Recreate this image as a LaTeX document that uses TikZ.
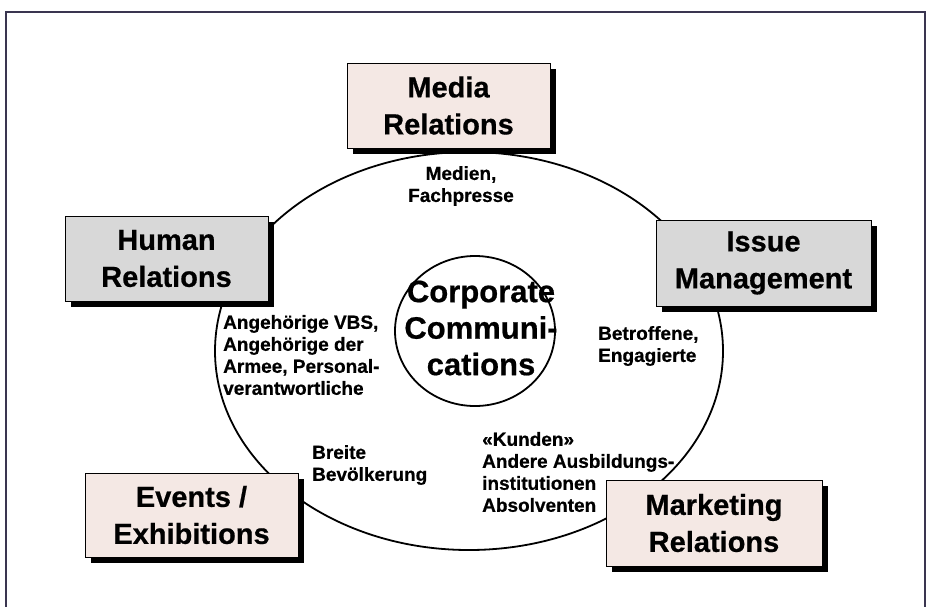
\documentclass[tikz,border=0pt]{standalone}
\usepackage{fontspec}
\setmainfont{Liberation Sans}[BoldFeatures={FakeBold=0.6}]
\usetikzlibrary{shadows,shapes.geometric}
\definecolor{pinkfill}{HTML}{F4E8E4}
\definecolor{grayfill}{HTML}{D8D8D8}
\definecolor{framecol}{HTML}{3A3550}
\begin{document}
\begin{tikzpicture}[x=1pt,y=-1pt,
  box/.style={draw=black, line width=1pt, align=center, inner sep=0pt,
    font=\fontsize{29}{37}\selectfont\bfseries,
    drop shadow={shadow xshift=6pt, shadow yshift=-6pt, opacity=1, fill=black}},
  pinkbox/.style={box, fill=pinkfill},
  graybox/.style={box, fill=grayfill},
  lbl/.style={inner sep=0pt, font=\fontsize{19}{22}\selectfont\bfseries},
  ring/.style={draw=black, line width=1.8pt}]
\useasboundingbox (0,0) rectangle (928,606);
\begin{scope}
\clip (0,0) rectangle (928,606);
\draw[framecol, line width=1.6pt] (6,620) -- (6,12) -- (925,12) -- (925,620);
\end{scope}
% big ellipse and centre circle
\node[ring, ellipse, minimum width=508pt, minimum height=398pt, inner sep=0pt] (outer) at (469,351) {};
\node[ring, ellipse, minimum width=160pt, minimum height=150pt, inner sep=0pt] (cc) at (475,331) {};
\node[inner sep=0pt, align=center, font=\fontsize{31}{36.5}\selectfont\bfseries] (cctext) at (481,328) {Corporate\\Communi-\\cations};
% labels inside ellipse
\node[lbl, align=center] (l1) at (461,186) {Medien,\\Fachpresse};
\node[lbl, align=left, anchor=west] (l2) at (223,355) {Angehörige VBS,\\Angehörige der\\Armee, Personal-\\verantwortliche};
\node[lbl, align=left, anchor=west] (l3) at (598,346) {Betroffene,\\Engagierte};
\node[lbl, align=left, anchor=west] (l4) at (312,465) {Breite\\Bevölkerung};
\node[lbl, align=left, anchor=west] (l5) at (482,472) {«Kunden»\\Andere Ausbildungs-\\institutionen\\Absolventen};
% boxes
\node[pinkbox, minimum width=203pt, minimum height=85pt] (media) at (448.5,105.5) {Media\\Relations};
\node[graybox, minimum width=203pt, minimum height=85pt] (human) at (166.5,258.5) {Human\\Relations};
\node[graybox, minimum width=215pt, minimum height=86pt] (issue) at (763.5,263) {Issue\\Management};
\node[pinkbox, minimum width=213pt, minimum height=84pt] (events) at (191.5,515) {Events /\\Exhibitions};
\node[pinkbox, minimum width=216pt, minimum height=86pt] (market) at (714,523) {Marketing\\Relations};
\end{tikzpicture}
\end{document}
